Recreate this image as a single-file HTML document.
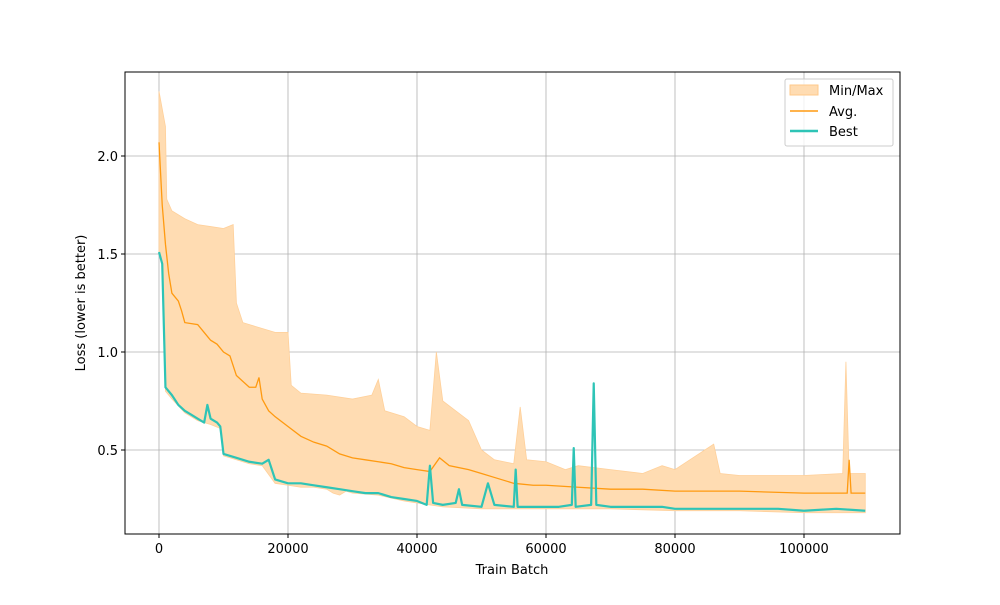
<!DOCTYPE html>
<html><head><meta charset="utf-8"><style>
body{margin:0;background:#fff;font-family:"Liberation Sans","DejaVu Sans",sans-serif;}
svg text{font-family:"DejaVu Sans","Liberation Sans",sans-serif;font-size:13px;fill:#000;}
</style></head><body>
<svg id="chart" width="1000" height="600" viewBox="0 0 1000 600" xmlns="http://www.w3.org/2000/svg">
<rect width="1000" height="600" fill="#fff"/>
<g id="grid"></g>
<g id="series"></g>
<rect x="125" y="72" width="775" height="462" fill="none" stroke="#000" stroke-width="1"/>
<g id="ticks"></g>
<text x="512" y="574" text-anchor="middle">Train Batch</text>
<text transform="translate(85,303) rotate(-90)" text-anchor="middle">Loss (lower is better)</text>
<g>
<rect x="785" y="79" width="108" height="67" fill="#fff" fill-opacity="0.8" stroke="#ccc" rx="2"/>
<rect x="790" y="85" width="28" height="10" fill="#ffdcb2" stroke="#ffc98a"/>
<text x="829" y="95">Min/Max</text>
<line x1="790" y1="111" x2="818" y2="111" stroke="#ff9a10" stroke-width="1.5"/>
<text x="829" y="116">Avg.</text>
<line x1="790" y1="131" x2="818" y2="131" stroke="#2ec4b6" stroke-width="2.5"/>
<text x="829" y="136">Best</text>
</g>
</svg>
<script>
const xTicks=[0,20000,40000,60000,80000,100000];
const xTickLabels=["0","20000","40000","60000","80000","100000"];
const yTicks=[0.5,1.0,1.5,2.0];
const yTickLabels=["0.5","1.0","1.5","2.0"];
const bestX=[0,0.5,1,2,3,4,5,6,7,7.5,8,9,9.5,10,12,14,16,17,18,20,22,24,26,28,30,32,34,36,38,40,41.5,42,42.5,44,46,46.5,47,50,51,52,55,55.3,55.6,58,60,62,64,64.3,64.6,67,67.4,67.8,70,72,75,78,80,85,90,96,100,105,109.5];
const bestY=[1.51,1.45,0.82,0.78,0.73,0.70,0.68,0.66,0.64,0.73,0.66,0.64,0.62,0.48,0.46,0.44,0.43,0.45,0.35,0.33,0.33,0.32,0.31,0.30,0.29,0.28,0.28,0.26,0.25,0.24,0.22,0.42,0.23,0.22,0.23,0.30,0.22,0.21,0.33,0.22,0.21,0.40,0.21,0.21,0.21,0.21,0.22,0.51,0.21,0.22,0.84,0.22,0.21,0.21,0.21,0.21,0.20,0.20,0.20,0.20,0.19,0.20,0.19];
const avgX=[0,0.5,1,1.5,2,3,3.5,4,6,7,8,9,10,11,12,14,15,15.5,16,17,18,20,22,24,26,28,30,32,34,36,38,40,42,43.5,45,48,50,52,55,58,60,65,70,75,80,90,100,106.7,107,107.3,109.5];
const avgY=[2.07,1.75,1.55,1.40,1.30,1.26,1.21,1.15,1.14,1.10,1.06,1.04,1.00,0.98,0.88,0.82,0.82,0.87,0.76,0.70,0.67,0.62,0.57,0.54,0.52,0.48,0.46,0.45,0.44,0.43,0.41,0.40,0.39,0.46,0.42,0.40,0.38,0.36,0.33,0.32,0.32,0.31,0.30,0.30,0.29,0.29,0.28,0.28,0.45,0.28,0.28];
const maxX=[0,1,1.2,2,4,6,8,10,11.5,12,13,16,18,20,20.5,22,26,30,33,34,35,38,40,42,43,44,46,48,50,52,55,56,57,60,63,65,70,75,78,80,86,87,90,100,106,106.5,107,109.5];
const maxY=[2.33,2.15,1.78,1.72,1.68,1.65,1.64,1.63,1.65,1.25,1.15,1.12,1.10,1.10,0.83,0.79,0.78,0.76,0.78,0.86,0.70,0.67,0.62,0.60,1.00,0.75,0.70,0.65,0.50,0.45,0.43,0.72,0.45,0.44,0.40,0.42,0.40,0.38,0.42,0.40,0.53,0.38,0.37,0.37,0.38,0.95,0.38,0.38];
const minX=[0,0.5,1,2,4,6,8,9.5,10,12,14,16,18,20,22,24,26,27,28,29,30,34,38,40,44,50,55,60,70,80,90,100,109.5];
const minY=[1.51,1.45,0.80,0.76,0.69,0.65,0.63,0.61,0.47,0.45,0.43,0.42,0.33,0.32,0.31,0.31,0.30,0.28,0.27,0.29,0.28,0.27,0.24,0.23,0.21,0.20,0.20,0.20,0.20,0.19,0.19,0.18,0.18];

const NS="http://www.w3.org/2000/svg";
const sx=v=>159+v*(645/100000);
const sy=v=>548-v*196;
const sxk=k=>sx(k*1000);
const grid=document.getElementById('grid'),ticks=document.getElementById('ticks'),series=document.getElementById('series');
function mk(tag,attrs,parent){const e=document.createElementNS(NS,tag);for(const k in attrs)e.setAttribute(k,attrs[k]);parent.appendChild(e);return e;}
xTicks.forEach((t,i)=>{const x=sx(t);
 const g=mk('line',{x1:x,x2:x,y1:72,y2:534,stroke:'#b0b0b0','stroke-width':0.8},grid);
 
 
 mk('line',{x1:x,x2:x,y1:534,y2:538,stroke:'#000'},ticks);
 const tx=mk('text',{x:x,y:553,'text-anchor':'middle'},ticks);tx.textContent=xTickLabels[i];
 
 
});
yTicks.forEach((t,i)=>{const y=sy(t);
 const g=mk('line',{x1:125,x2:900,y1:y,y2:y,stroke:'#b0b0b0','stroke-width':0.8},grid);
 
 
 mk('line',{x1:121,x2:125,y1:y,y2:y,stroke:'#000'},ticks);
 const tx=mk('text',{x:118,y:y+5,'text-anchor':'end'},ticks);tx.textContent=yTickLabels[i];
 
 
});
let pts=maxX.map((k,i)=>sxk(k)+','+sy(maxY[i]));
for(let i=minX.length-1;i>=0;i--)pts.push(sxk(minX[i])+','+sy(minY[i]));
const band=mk('polygon',{points:pts.join(' '),fill:'#ffdcb2',stroke:'#ffd09a','stroke-width':0.8},series);


const avg=mk('polyline',{points:avgX.map((k,i)=>sxk(k)+','+sy(avgY[i])).join(' '),fill:'none',stroke:'#ff9a10','stroke-width':1.3},series);


const best=mk('polyline',{points:bestX.map((k,i)=>sxk(k)+','+sy(bestY[i])).join(' '),fill:'none',stroke:'#2ec4b6','stroke-width':2.2,'stroke-linejoin':'round'},series);


</script>
</body></html>
